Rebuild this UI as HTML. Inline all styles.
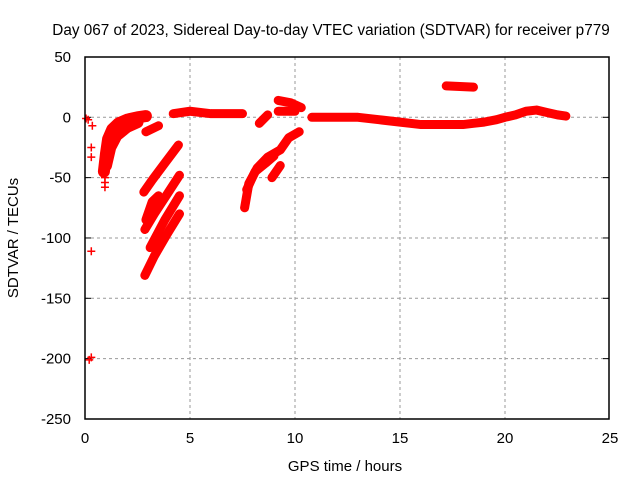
<!DOCTYPE html>
<html><head><meta charset="utf-8"><style>
body{margin:0;background:#fff}
svg{display:block;font-family:"Liberation Sans",Arial,sans-serif;font-size:15px}
</style></head><body>
<svg id="chart" width="640" height="480">
<text x="331" y="35" text-anchor="middle" font-size="15.3">Day 067 of 2023, Sidereal Day-to-day VTEC variation (SDTVAR) for receiver p779</text>
<text x="345" y="471" text-anchor="middle">GPS time / hours</text>
<text transform="translate(18,238) rotate(-90)" text-anchor="middle">SDTVAR / TECUs</text>
<g id="grid"></g><g id="ticks"></g><g id="marks"></g>
<rect x="85" y="57" width="524" height="362" fill="none" stroke="#000" stroke-width="1.5"/>
</svg>
<script>
const xTicks=[0,5,10,15,20,25];
const yTicks=[50,0,-50,-100,-150,-200,-250];
const trackEarlyUpper=[[0.9,-45],[1.0,-30],[1.1,-18],[1.3,-10],[1.6,-5],[2.0,-2],[2.5,0],[2.9,1]];
const trackEarlyLower=[[1.0,-40],[1.2,-25],[1.5,-15],[2.0,-8],[2.5,-4]];
const trackSmall1=[[2.9,-12],[3.5,-7]];
const trackDiagA=[[2.8,-62],[3.2,-52],[3.8,-38],[4.45,-23]];
const trackDiagB=[[2.85,-93],[3.3,-80],[3.9,-64],[4.5,-48]];
const trackDiagB2=[[2.9,-85],[3.2,-70],[3.5,-65]];
const trackDiagC=[[2.85,-131],[3.3,-115],[3.9,-97],[4.5,-80]];
const trackDiagC2=[[3.1,-108],[3.8,-85],[4.5,-65]];
const trackMid=[[4.2,3],[5,5],[6,3],[7,3],[7.5,3]];
const trackArc2=[[7.6,-75],[7.8,-55],[8.2,-42],[8.7,-33],[9.3,-27],[9.7,-17],[10.2,-12]];
const trackArc2b=[[7.7,-60],[8.1,-45],[8.6,-38],[9.0,-32]];
const trackSpur=[[8.9,-50],[9.3,-40]];
const trackSmall2=[[8.3,-5],[8.7,2]];
const trackTop=[[9.2,14],[9.8,12],[10.3,8]];
const trackTop2=[[9.2,5],[10.0,5]];
const trackLong=[[10.8,0],[12,0],[13,0],[14,-2],[15,-4],[16,-6],[17,-6],[18,-6],[18.5,-5],[19,-4],[19.6,-2],[20,0],[20.5,2],[21,5],[21.5,6],[22,4],[22.5,2],[22.9,1]];
const trackHigh=[[17.2,26],[18.5,25]];
const isolated=[[0.05,-1],[0.15,-2],[0.35,-7],[0.3,-25],[0.3,-33],[0.3,-111],[0.3,-199],[0.2,-201],[0.95,-50],[0.95,-54],[0.95,-58]];
const tracks=[trackEarlyUpper,trackEarlyLower,trackSmall1,trackDiagA,trackDiagB,trackDiagB2,trackDiagC,trackDiagC2,trackMid,trackArc2,trackArc2b,trackSpur,trackSmall2,trackTop,trackTop2,trackLong,trackHigh];
const NS="http://www.w3.org/2000/svg";
const X=h=>85+h*21, Y=v=>117.3-v*1.2067;
const grid=document.getElementById('grid'),ticks=document.getElementById('ticks'),marks=document.getElementById('marks');
function mk(tag,attrs,parent){const e=document.createElementNS(NS,tag);for(const k in attrs)e.setAttribute(k,attrs[k]);parent.appendChild(e);return e;}
xTicks.forEach(t=>{
 if(t>0&&t<25){const g=mk('line',{x1:X(t),x2:X(t),y1:57,y2:419,stroke:'#999','stroke-dasharray':'3,3'},grid);
 
 }
 const l=mk('text',{x:X(t),y:443,'text-anchor':'middle'},ticks);l.textContent=t;
 
 
});
yTicks.forEach(t=>{
 if(t<50&&t>-250){const g=mk('line',{x1:85,x2:609,y1:Y(t),y2:Y(t),stroke:'#999','stroke-dasharray':'3,3'},grid);
 
 
 mk('line',{x1:85,x2:91,y1:Y(t),y2:Y(t),stroke:'#000'},ticks);mk('line',{x1:603,x2:609,y1:Y(t),y2:Y(t),stroke:'#000'},ticks);}
 const l=mk('text',{x:71,y:Y(t)+5,'text-anchor':'end'},ticks);l.textContent=t;
 
 
});
function plus(h,v){const p=mk('path',{d:`M${X(h)-4},${Y(v)}h8M${X(h)},${Y(v)-4}v8`,stroke:'red','stroke-width':1.5},marks);
 
 }
tracks.forEach((tr,i)=>{
 const pl=mk('polyline',{points:tr.map(p=>X(p[0])+','+Y(p[1])).join(' '),fill:'none',stroke:'red','stroke-width':i<2?12:9,'stroke-linejoin':'round','stroke-linecap':'round'},marks);
 
 
 tr.forEach(p=>plus(p[0],p[1]));
});
isolated.forEach(p=>plus(p[0],p[1]));
</script>
</body></html>
